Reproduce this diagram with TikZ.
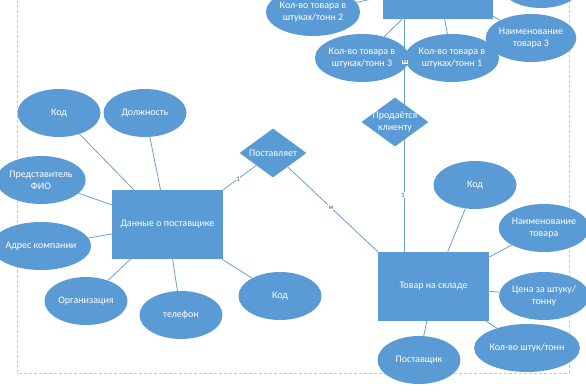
\documentclass[tikz,border=0pt]{standalone}
\usepackage{fontspec}
\setmainfont{Carlito}
\usetikzlibrary{shapes.geometric,calc,backgrounds}
\definecolor{eblue}{HTML}{5B9BD5}
\definecolor{lblue}{HTML}{6A9FD2}
\definecolor{cardgray}{HTML}{595959}
\definecolor{bordergray}{HTML}{C8C8C8}
\begin{document}
\begin{tikzpicture}[x=1pt,y=-1pt,
  txt/.style={text=white, font=\fontsize{10}{12}\selectfont, align=center},
  ent/.style={rectangle, fill=eblue, minimum width=111pt, minimum height=69pt, inner sep=0pt, txt},
  attr/.style={ellipse, fill=eblue, minimum width=83pt, minimum height=48pt, inner sep=0pt, txt},
  rel/.style={diamond, fill=eblue, minimum width=67pt, minimum height=49pt, inner sep=0pt},
  reltext/.style={txt, inner sep=0pt},
  conn/.style={draw=lblue, line width=0.8pt},
  card/.style={font=\fontsize{7}{8}\selectfont, text=cardgray, fill=white, inner sep=0.6pt},
  frame/.style={draw=bordergray, line width=0.6pt, dash pattern=on 3pt off 2pt}]
\useasboundingbox (0,0) rectangle (586,391);
\clip (0,0) rectangle (586,391);

% entities
\node[ent] (sup) at (167.5,224.5) {Данные о поставщике};
\node[ent] (stock) at (433.5,286.5) {Товар на складе};
\node[ent, minimum width=110pt] (top) at (438,-15.5) {};

% relations
\node[rel, label={[reltext]center:Поставляет}] (supplies) at (273,153) {};
\node[rel, label={[reltext]center:Продаётся\\клиенту}] (sold) at (395,122) {};

% supplier attributes
\node[attr] (kod1) at (59,113) {Код};
\node[attr] (dolzh) at (145,113) {Должность};
\node[attr] (fio) at (41,180) {Представитель\\ФИО};
\node[attr] (addr) at (41,246) {Адрес компании};
\node[attr] (org) at (86,301) {Организация};
\node[attr] (tel) at (181,315) {телефон};
\node[attr] (kod2) at (280,296) {Код};

% stock attributes
\node[attr] (kod3) at (475,185) {Код};
\node[attr] (name) at (544,228) {Наименование\\товара};
\node[attr] (price) at (544,296) {Цена за штуку/\\тонну};
\node[attr] (qty) at (527,348) {Кол-во штук/тонн};
\node[attr] (vendor) at (419,360) {Поставщик};

% top attributes
\node[attr] (q2) at (313,12) {Кол-во товара в\\штуках/тонн 2};
\node[attr] (q3) at (362,58) {Кол-во товара в\\штуках/тонн 3};
\node[attr] (q1) at (452,58) {Кол-во товара в\\штуках/тонн 1};
\node[attr] (name3) at (531,38) {Наименование\\товара 3};
\node[attr] (topr) at (541,-16) {};

\begin{scope}[on background layer]
  \draw[frame] (17,0) -- (17,373) -- (569,373) -- (569,0);
  \draw[conn] (kod1) -- (sup);
  \draw[conn] (dolzh) -- (sup);
  \draw[conn] (fio) -- (sup);
  \draw[conn] (addr) -- (sup);
  \draw[conn] (org) -- (sup);
  \draw[conn] (tel) -- (sup);
  \draw[conn] (kod2) -- (sup);
  \draw[conn] (kod3) -- (stock);
  \draw[conn] (name) -- (stock);
  \draw[conn] (price) -- (stock);
  \draw[conn] (qty) -- (stock);
  \draw[conn] (vendor) -- (stock);
  \draw[conn] (q2) -- (top);
  \draw[conn] (q3) -- (top);
  \draw[conn] (q1) -- (top);
  \draw[conn] (name3) -- (top);
  \draw[conn] (sup.north east) -- (supplies) node[card, pos=0.45] {1};
  \draw[conn] (supplies) -- (stock.north west) node[card, pos=0.48] {м};
  \draw[conn] ($(top.south west)+(22,0)$) coordinate (vtop) -- ($(stock.north west)+(27,0)$) coordinate (vbot);
\end{scope}
\node[card] at (405,62) {м};
\node[card] at (403,195) {1};
\end{tikzpicture}
\end{document}
